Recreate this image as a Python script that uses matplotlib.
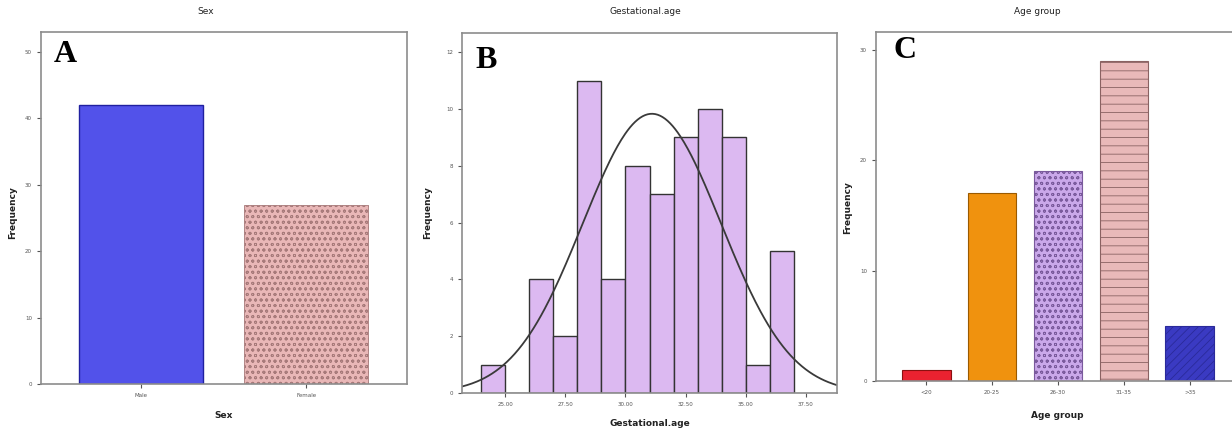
import numpy as np
import matplotlib
matplotlib.use("Agg")
import matplotlib.pyplot as plt

# ---- data ----
sex_categories = ["Male", "Female"]
sex_counts = [42, 27]

ga_bin_edges = [24, 25, 26, 27, 28, 29, 30, 31, 32, 33, 34, 35, 36, 37]
ga_counts = [1, 0, 4, 2, 11, 4, 8, 7, 9, 10, 9, 1, 5]
ga_mean = 31.1
ga_sd = 2.88
ga_ticks = [25.0, 27.5, 30.0, 32.5, 35.0, 37.5]

age_categories = ["<20", "20-25", "26-30", "31-35", ">35"]
age_counts = [1, 17, 19, 29, 5]

W, H = 1232, 430
fig = plt.figure(figsize=(W / 100, H / 100), dpi=100)
fig.patch.set_facecolor("white")
plt.rcParams['hatch.linewidth'] = 0.6

def box(l, r, t, b):
    return [l / W, (H - b) / H, (r - l) / W, (b - t) / H]

def style(ax):
    for s in ax.spines.values():
        s.set_color("#8c8c8c")
        s.set_linewidth(1.2)
    ax.tick_params(axis="both", labelsize=4, colors="#555555", length=3, width=0.8)

lab_font = dict(fontsize=6.5, fontweight="bold", color="#222222")
tit_font = dict(fontsize=6.5, color="#222222")
letter_font = dict(fontsize=23, fontweight="bold", family="Liberation Serif", color="black")

# ---- Panel A ----
axA = fig.add_axes(box(41, 407, 32, 384))
style(axA)
xa = np.arange(len(sex_categories))
axA.bar(xa[0], sex_counts[0], width=0.75, color="#5252ea", edgecolor="#2020a0", linewidth=1)
axA.bar(xa[1], sex_counts[1], width=0.75, color="#e9b7b7", edgecolor="#a77a7a",
        hatch="ooo", linewidth=0.6)
axA.set_xlim(-0.606, 1.61)
axA.set_ylim(0, 53)
axA.set_yticks([0, 10, 20, 30, 40, 50])
axA.set_xticks(xa)
axA.set_xticklabels(sex_categories)
fig.text(224 / W, 1 - 416 / H, "Sex", ha="center", va="center", **lab_font)
fig.text(13 / W, 1 - 213 / H, "Frequency", ha="center", va="center", rotation=90, **lab_font)
fig.text(206 / W, 1 - 12 / H, "Sex", ha="center", va="center", **tit_font)
fig.text(65 / W, 1 - 54 / H, "A", ha="center", va="center", **letter_font)

# ---- Panel B ----
axB = fig.add_axes(box(462, 837, 33, 393))
style(axB)
edges = np.array(ga_bin_edges, dtype=float)
axB.bar(edges[:-1], ga_counts, width=np.diff(edges), align="edge",
        color="#dcb9f1", edgecolor="#333333", linewidth=1)
axB.set_xlim(23.2, 38.8)
axB.set_ylim(0, 12.68)
axB.set_yticks([0, 2, 4, 6, 8, 10, 12])
axB.set_xticks(ga_ticks)
axB.set_xticklabels([f"{t:.2f}" for t in ga_ticks])
xs = np.linspace(23.2, 38.8, 300)
n_total = sum(ga_counts)
ys = n_total * 1.0 / (ga_sd * np.sqrt(2 * np.pi)) * np.exp(-0.5 * ((xs - ga_mean) / ga_sd) ** 2)
axB.plot(xs, ys, color="#3a3a3a", linewidth=1.3)
fig.text(650 / W, 1 - 424 / H, "Gestational.age", ha="center", va="center", **lab_font)
fig.text(428 / W, 1 - 213 / H, "Frequency", ha="center", va="center", rotation=90, **lab_font)
fig.text(645 / W, 1 - 12 / H, "Gestational.age", ha="center", va="center", **tit_font)
fig.text(486 / W, 1 - 60 / H, "B", ha="center", va="center", **letter_font)

# ---- Panel C ----
axC = fig.add_axes(box(876, 1240, 32, 381))
style(axC)
xc = np.arange(len(age_categories))
styles = [
    dict(color="#ea2230", edgecolor="#8a1010", hatch=None),
    dict(color="#f0920e", edgecolor="#9a5a00", hatch=None),
    dict(color="#caa8ea", edgecolor="#7a5a9c", hatch="ooo"),
    dict(color="#e9b9b9", edgecolor="#8a6262", hatch="--"),
    dict(color="#3a3ac2", edgecolor="#2a2a9a", hatch="////"),
]
for i, (x, v) in enumerate(zip(xc, age_counts)):
    st = styles[i]
    axC.bar(x, v, width=0.74, color=st["color"], edgecolor=st["edgecolor"],
            hatch=st["hatch"], linewidth=0.8)
axC.set_xlim(-0.76, 4.76)
axC.set_ylim(0, 31.6)
axC.set_yticks([0, 10, 20, 30])
axC.set_xticks(xc)
axC.set_xticklabels(age_categories)
fig.text(1057 / W, 1 - 415 / H, "Age group", ha="center", va="center", **lab_font)
fig.text(848 / W, 1 - 208 / H, "Frequency", ha="center", va="center", rotation=90, **lab_font)
fig.text(1037 / W, 1 - 12 / H, "Age group", ha="center", va="center", **tit_font)
fig.text(905 / W, 1 - 50 / H, "C", ha="center", va="center", **letter_font)

fig.savefig("out.png", dpi=100, facecolor="white")
